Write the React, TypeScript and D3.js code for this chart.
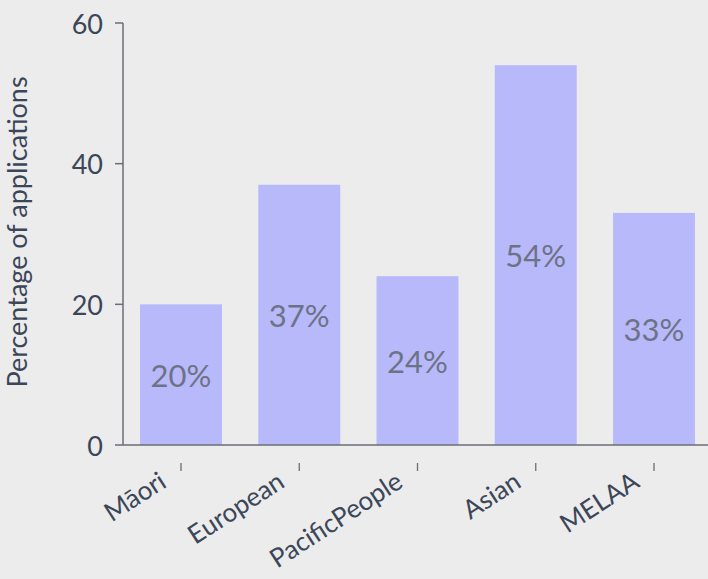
import React from "react";
import * as d3 from "d3";

const categories = ["Māori", "European", "PacificPeople", "Asian", "MELAA"];
const values = [20, 37, 24, 54, 33];
const yTicks = [0, 20, 40, 60];
const yTitle = "Percentage of applications";

const W = 708;
const H = 579;
const left = 123;
const bottom = 445;
const top = 23;

export default function App() {
  const y = d3.scaleLinear().domain([0, 60]).range([bottom, top]);
  const x = d3
    .scaleBand<string>()
    .domain(categories)
    .range([left, 712])
    .paddingInner(0.307)
    .paddingOuter(0.144);
  const textColor = "#3c4659";
  const axisColor = "#6b6e74";
  return (
    <svg
      width={W}
      height={H}
      style={{ position: "absolute", left: 0, top: 0, display: "block", background: "#ebeceb" }}
      fontFamily="Lato, 'Open Sans', sans-serif"
    >
      <rect x={0} y={0} width={W} height={H} fill="#ebeceb" />
      {categories.map((c, i) => (
        <rect
          key={c}
          x={x(c)}
          y={y(values[i])}
          width={x.bandwidth()}
          height={bottom - y(values[i])}
          fill="#b8b9fa"
        />
      ))}
      {categories.map((c, i) => (
        <text
          key={"v" + c}
          x={(x(c) as number) + x.bandwidth() / 2}
          y={(y(values[i]) + bottom) / 2}
          textAnchor="middle"
          dominantBaseline="central"
          fontSize={31}
          fill="#6e7287"
        >
          {values[i]}%
        </text>
      ))}
      {/* y axis */}
      <line x1={left} x2={left} y1={top} y2={bottom} stroke={axisColor} strokeWidth={1.5} />
      {yTicks.map((t) => (
        <g key={t}>
          <line x1={left - 8} x2={left} y1={y(t)} y2={y(t)} stroke={axisColor} strokeWidth={1.5} />
          <text
            x={left - 20}
            y={y(t)}
            textAnchor="end"
            dominantBaseline="central"
            fontSize={27}
            fill={textColor}
          >
            {t}
          </text>
        </g>
      ))}
      {/* x axis */}
      <line x1={left} x2={W} y1={bottom} y2={bottom} stroke={axisColor} strokeWidth={1.5} />
      {categories.map((c) => {
        const cx = (x(c) as number) + x.bandwidth() / 2;
        return (
          <g key={"t" + c}>
            <line x1={cx} x2={cx} y1={463} y2={471} stroke={axisColor} strokeWidth={1.3} />
            <text
              transform={`translate(${cx - 13},${486}) rotate(-33)`}
              textAnchor="end"
              fontSize={26}
              fill={textColor}
            >
              {c}
            </text>
          </g>
        );
      })}
      <text
        transform={`translate(${27},${232}) rotate(-90)`}
        textAnchor="middle"
        fontSize={27}
        fill={textColor}
      >
        {yTitle}
      </text>
    </svg>
  );
}
